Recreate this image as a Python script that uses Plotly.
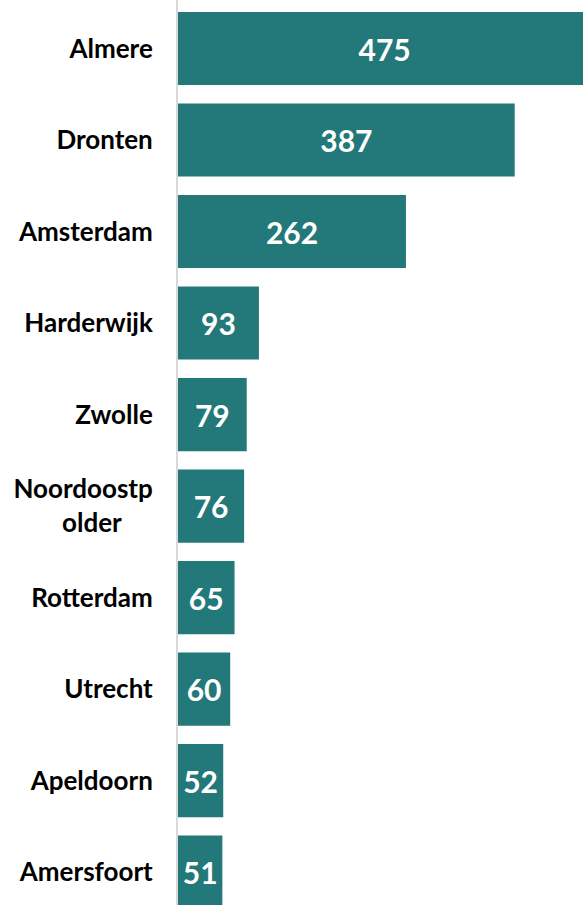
import plotly.graph_objects as go

NB = "\u00a0"
categories = ["Almere", "Dronten", "Amsterdam", "Harderwijk", "Zwolle",
              "Noordoostp<br>older" + NB * 5, "Rotterdam", "Utrecht", "Apeldoorn", "Amersfoort"]
values = [475, 387, 262, 93, 79, 76, 65, 60, 52, 51]

fig = go.Figure(go.Bar(
    x=values, y=categories, orientation="h",
    marker=dict(color="#23787A", line=dict(width=0)),
    text=[str(v) for v in values], textposition="inside",
    insidetextanchor="middle", constraintext="none",
    textfont=dict(family="Lato", size=30, color="white", weight="bold"),
    cliponaxis=True,
))

fig.update_layout(
    width=583, height=905,
    margin=dict(l=178, r=0, t=0, b=0),
    plot_bgcolor="white", paper_bgcolor="white",
    bargap=0.2, showlegend=False,
    font=dict(family="Lato", color="black"),
)
fig.update_xaxes(range=[0, 465.5], visible=False, showgrid=False)
fig.update_yaxes(
    range=[9.36, -0.53], showgrid=False, ticks="",
    showline=True, linecolor="#d9d9d9", linewidth=2,
    tickfont=dict(family="Lato", size=26, color="black", weight="bold"),
    ticklabelstandoff=18,
)

fig.write_html(
    "out.html",
    config={"displayModeBar": False},
    post_script="document.body.style.margin='0';document.body.style.overflow='hidden';",
)
